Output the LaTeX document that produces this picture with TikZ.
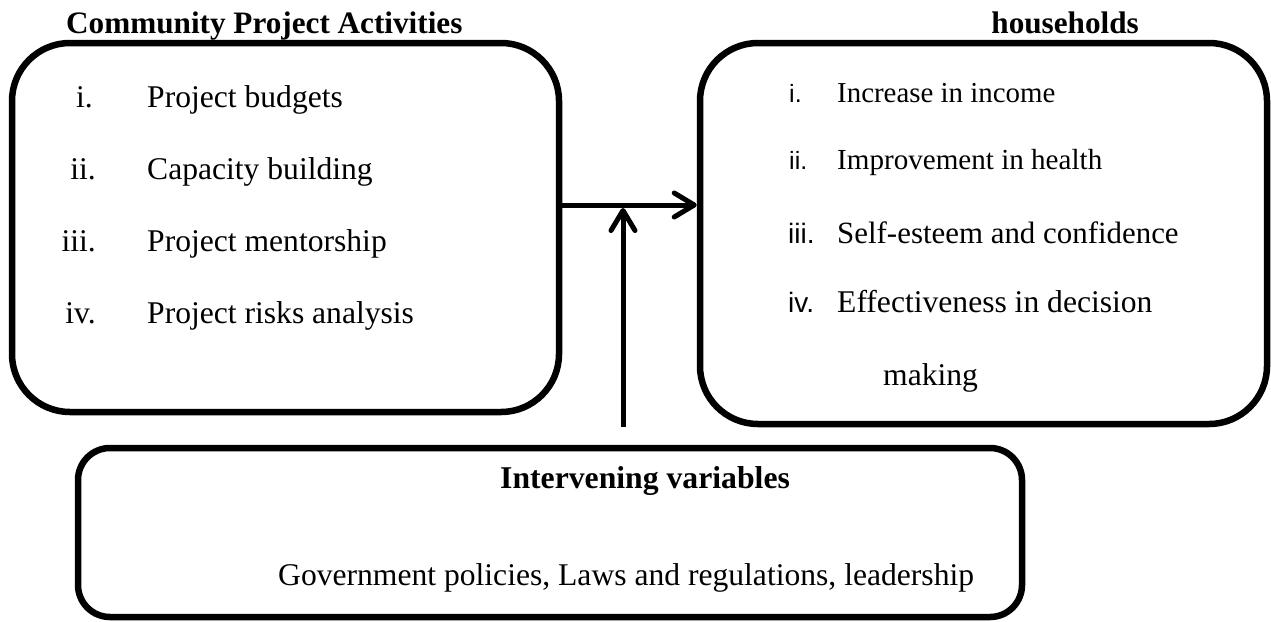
\documentclass[tikz,border=0pt]{standalone}
\usepackage{fontspec}
\setmainfont{Liberation Serif}
\newfontfamily\sansnum{Liberation Sans}
\usetikzlibrary{arrows.meta}
\begin{document}
\begin{tikzpicture}[x=1pt,y=-1pt,
  box/.style={draw=black,line width=6.5pt,rounded corners=#1,inner sep=0pt},
  arr/.style={line width=5pt,-{Straight Barb[length=20pt,width=24pt,line cap=round,line join=round]}},
  txt/.style={inner sep=0pt,font=\fontsize{31.6}{36}\selectfont},
  sz/.style={inner sep=0pt,font=\fontsize{#1}{36}\selectfont},
  rnum/.style={inner sep=0pt,font=\sansnum\fontsize{#1}{32}\selectfont},
  ttl/.style={inner sep=0pt,font=\bfseries\fontsize{31.2}{36}\selectfont}]
\useasboundingbox (0,0) rectangle (1271,621);
% boxes
\node[box=58pt,minimum width=547pt,minimum height=369pt] (L) at (285.5,227.5) {};
\node[box=58pt,minimum width=567pt,minimum height=381pt] (R) at (983.5,233.5) {};
\node[box=32pt,minimum width=944pt,minimum height=169pt] (B) at (550,532.5) {};
% titles
\node[ttl,anchor=base west] (tL) at (66,33) {Community Project Activities};
\node[ttl,anchor=base east] (tR) at (1139,33) {households};
% left list
\node[txt,anchor=base east] (n1) at (93,107) {i.};
\node[txt,anchor=base east] (n2) at (96,179) {ii.};
\node[txt,anchor=base east] (n3) at (96,251) {iii.};
\node[txt,anchor=base east] (n4) at (96,323) {iv.};
\node[txt,anchor=base west] (l1) at (147,107) {Project budgets};
\node[txt,anchor=base west] (l2) at (147,179) {Capacity building};
\node[txt,anchor=base west] (l3) at (147,251) {Project mentorship};
\node[txt,anchor=base west] (l4) at (147,323) {Project risks analysis};
% right list
\node[rnum=25,anchor=base west] (m1) at (789,102) {i.};
\node[rnum=25,anchor=base west] (m2) at (789,169) {ii.};
\node[rnum=28,anchor=base west] (m3) at (788,243) {iii.};
\node[rnum=28,anchor=base west] (m4) at (788,312) {iv.};
\node[sz=28.9,anchor=base west] (r1) at (837,102) {Increase in income};
\node[sz=29.1,anchor=base west] (r2) at (837,169) {Improvement in health};
\node[sz=30.9,anchor=base west] (r3) at (837,243) {Self-esteem and confidence};
\node[sz=31.6,anchor=base west] (r4) at (837,312) {Effectiveness in decision};
\node[sz=31.6,anchor=base west] (r5) at (883,385) {making};
% bottom box texts
\node[ttl,anchor=base west,font=\bfseries\fontsize{31.7}{36}\selectfont] (bt) at (500,488) {Intervening variables};
\node[txt,anchor=base west] (bx) at (278,585) {Government policies, Laws and regulations, leadership};
% connectors
\coordinate (h) at ([yshift=22.5pt]L.east);
\draw[arr] (h) -- (h -| R.west);
\coordinate (vs) at (623,427);
\draw[arr,shorten >=3pt] (vs) -- (vs |- h);
\end{tikzpicture}
\end{document}
